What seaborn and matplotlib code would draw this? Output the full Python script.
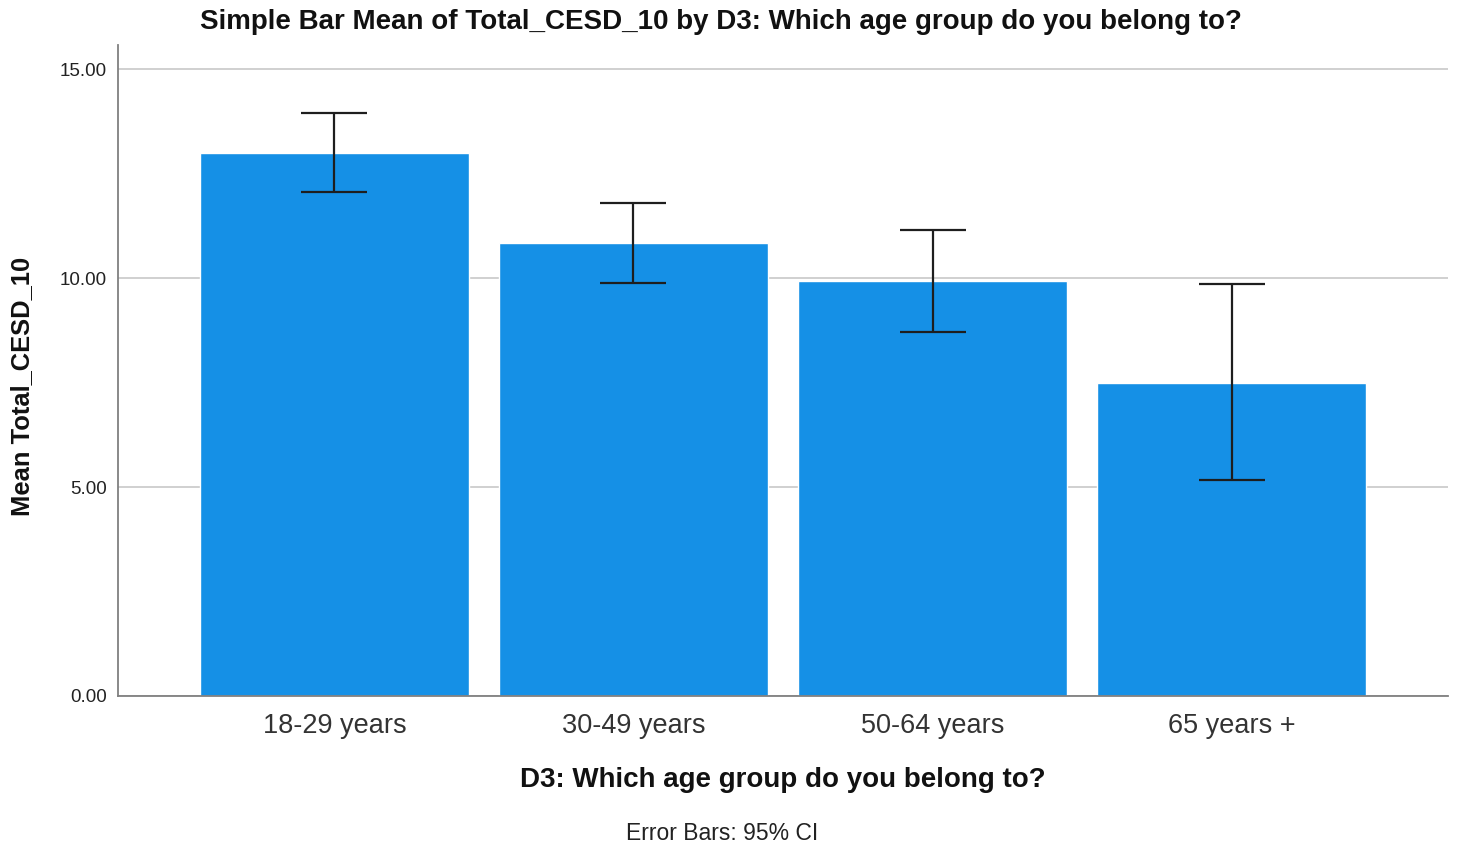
import matplotlib
matplotlib.use("Agg")
import matplotlib.pyplot as plt
import seaborn as sns
import pandas as pd
import numpy as np

categories = ["18-29 years", "30-49 years", "50-64 years", "65 years +"]
means = [12.99, 10.84, 9.92, 7.49]
ci_low = [12.06, 9.88, 8.71, 5.16]
ci_high = [13.95, 11.81, 11.15, 9.85]
yticks = [0, 5, 10, 15]

sns.set_theme(style="white")
plt.rcParams['font.family'] = ['Liberation Sans', 'DejaVu Sans']

W, H = 1459, 852
fig = plt.figure(figsize=(W / 100, H / 100), dpi=100)
ax = fig.add_axes([118 / W, 1 - 696 / H, (1448 - 118) / W, (696 - 45) / H])

df = pd.DataFrame({"group": categories, "mean": means})
sns.barplot(data=df, x="group", y="mean", color="#1590e6", saturation=1,
            width=0.9, errorbar=None, ax=ax, zorder=2)

lo = np.array(means) - np.array(ci_low)
hi = np.array(ci_high) - np.array(means)
ax.errorbar(np.arange(len(categories)), means, yerr=[lo, hi], fmt="none",
            ecolor="#1e1e1e", elinewidth=1.6, capsize=23.8, capthick=1.6, zorder=3)

ax.set_xlim(-0.724, 3.724)
ax.set_ylim(0, 15.58)
ax.set_yticks(yticks)
ax.set_yticklabels([f"{v:.2f}" for v in yticks], fontsize=13.5, color="#222222")
ax.tick_params(axis="y", length=0, pad=8)
ax.tick_params(axis="x", length=0, pad=12, labelsize=19.5, labelcolor="#333333")
ax.yaxis.grid(True, color="#c8c8c8", linewidth=1.2, zorder=0)
ax.set_axisbelow(True)
for s in ["top", "right"]:
    ax.spines[s].set_visible(False)
for s in ["left", "bottom"]:
    ax.spines[s].set_color("#808080")
    ax.spines[s].set_linewidth(1.3)
ax.set_xlabel("")
ax.set_ylabel("")

fig.text(721 / W, 1 - 22 / H, "Simple Bar Mean of Total_CESD_10 by D3: Which age group do you belong to?",
         ha="center", va="center", fontsize=20, fontweight="bold", color="#111111")
fig.text(783 / W, 1 - 780 / H, "D3: Which age group do you belong to?",
         ha="center", va="center", fontsize=20, fontweight="bold", color="#111111")
fig.text(22 / W, 1 - 386 / H, "Mean Total_CESD_10", rotation=90,
         ha="center", va="center", fontsize=18.4, fontweight="bold", color="#111111")
fig.text(722 / W, 1 - 833 / H, "Error Bars: 95% CI",
         ha="center", va="center", fontsize=16.5, color="#222222")

fig.savefig("out.png", dpi=100, facecolor="white")
